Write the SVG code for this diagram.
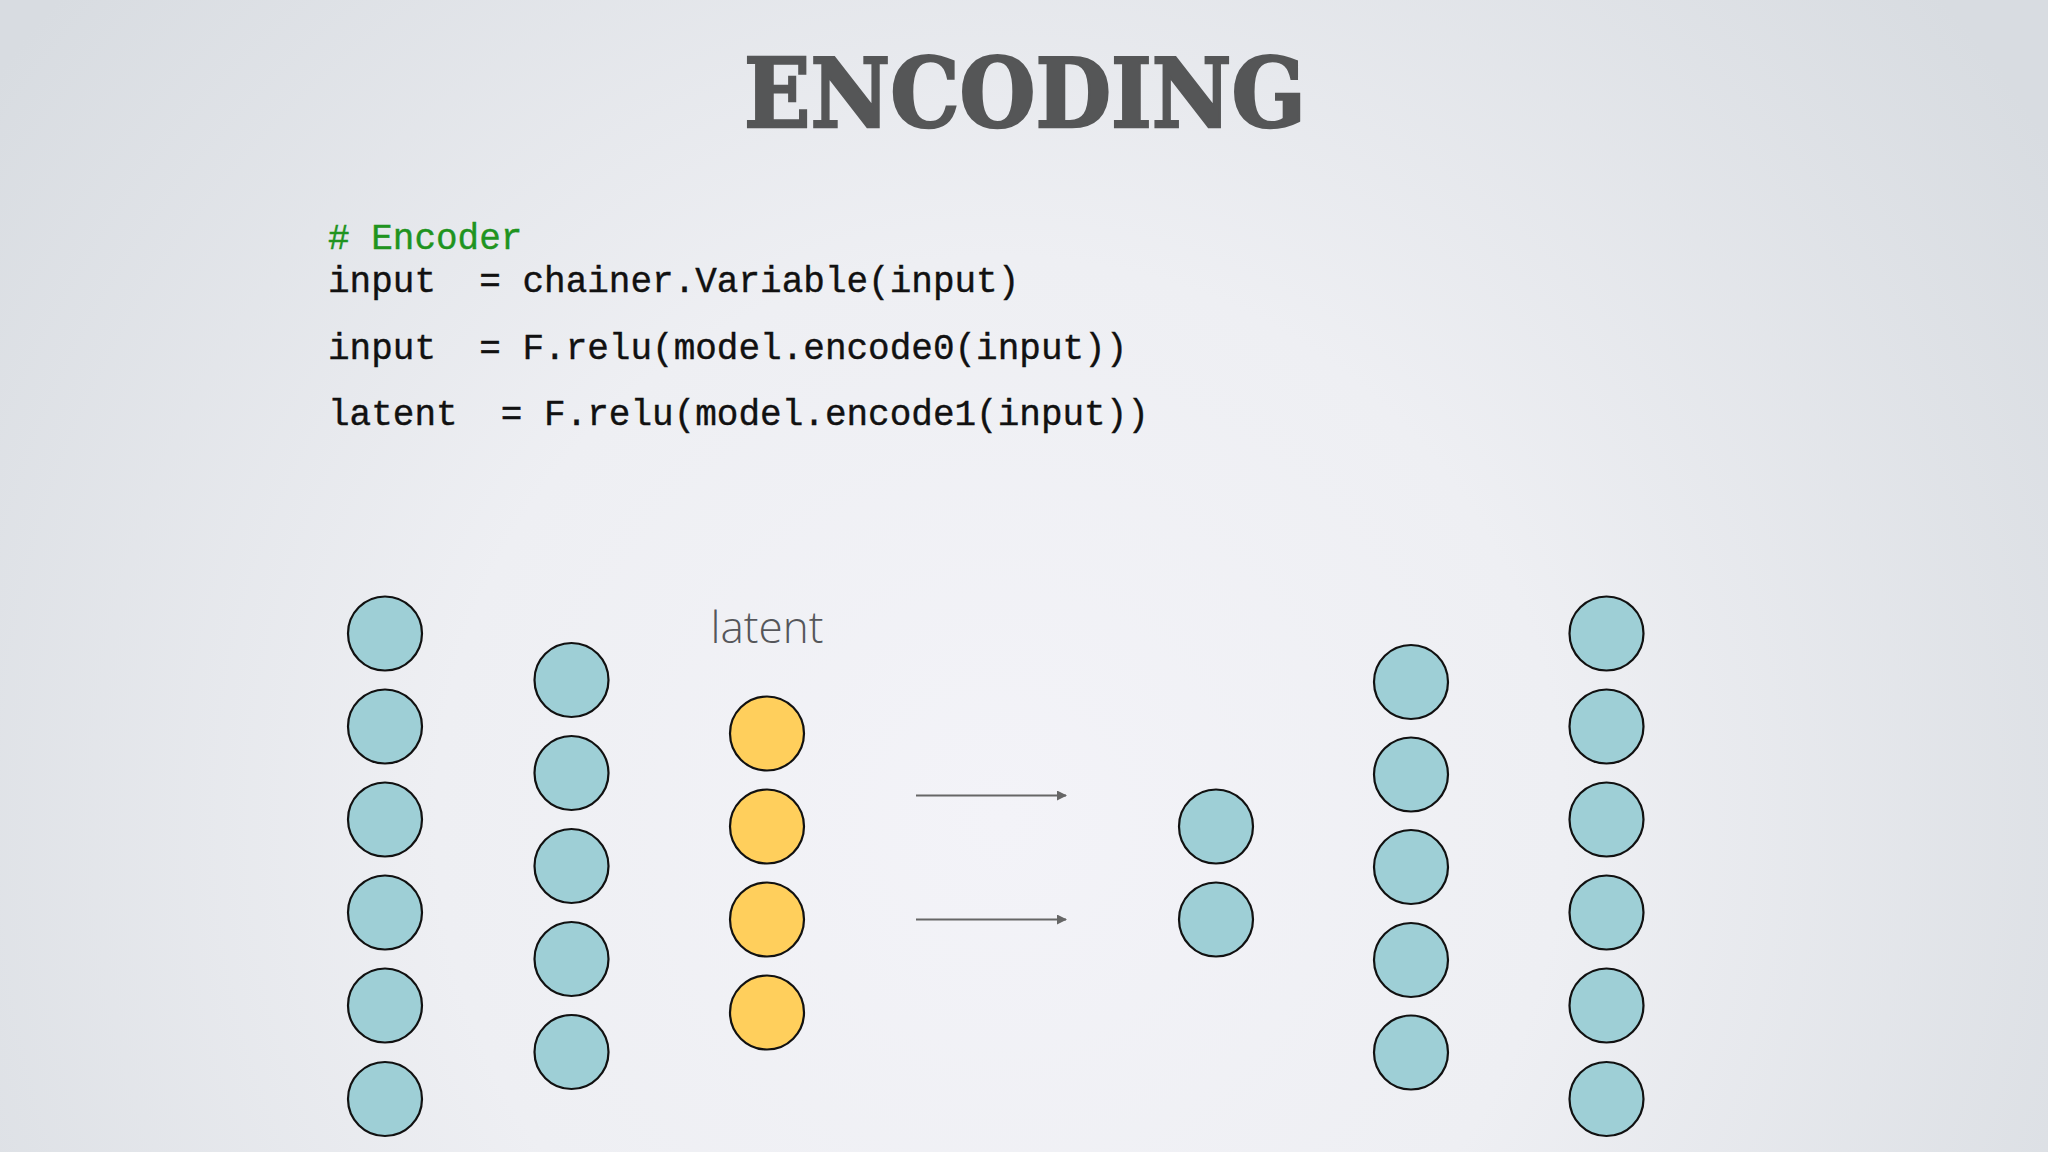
<svg xmlns="http://www.w3.org/2000/svg" width="2048" height="1152" viewBox="0 0 2048 1152">
  <defs>
    <radialGradient id="bg" cx="1000" cy="820" r="1250" gradientUnits="userSpaceOnUse">
      <stop offset="0" stop-color="#f3f3f8"/>
      <stop offset="0.45" stop-color="#eeeff3"/>
      <stop offset="1" stop-color="#d8dce1"/>
    </radialGradient>
    <marker id="arrow" viewBox="0 0 10 10" refX="9" refY="5" markerWidth="5" markerHeight="5" markerUnits="strokeWidth" orient="auto">
      <path d="M0,0 L10,5 L0,10 Z" fill="#666666"/>
    </marker>
  </defs>
  <style>
    .title { font-family: "DejaVu Serif", "Liberation Serif", serif; font-weight: bold; font-size: 96px; fill: #555657; stroke: #555657; stroke-width: 2.5; }
    .code { font-family: "Liberation Mono", "DejaVu Sans Mono", monospace; font-size: 36px; fill: #111111; stroke: #111111; stroke-width: 0.4; white-space: pre; }
    .comment { fill: #1f941f; stroke: #1f941f; }
    .label { font-family: "Open Sans", "Noto Sans", sans-serif; font-weight: 300; font-size: 44px; fill: #55565a; }
    .teal { fill: #9ecfd6; stroke: #111111; stroke-width: 2.2; }
    .yellow { fill: #ffcf5c; stroke: #111111; stroke-width: 2.2; }
    .conn { stroke: #666666; stroke-width: 2; fill: none; }
  </style>
  <rect x="0" y="0" width="2048" height="1152" fill="url(#bg)"/>

  <text id="title" class="title" x="1025" y="127" text-anchor="middle" textLength="562" lengthAdjust="spacingAndGlyphs">ENCODING</text>

  <g id="code">
    <text class="code comment" x="328" y="249" xml:space="preserve"># Encoder</text>
    <text class="code" x="328" y="292" xml:space="preserve">input  = chainer.Variable(input)</text>
    <text class="code" x="328" y="359" xml:space="preserve">input  = F.relu(model.encode0(input))</text>
    <text class="code" x="328" y="425" xml:space="preserve">latent  = F.relu(model.encode1(input))</text>
  </g>

  <text id="latent-label" class="label" x="767" y="643" text-anchor="middle">latent</text>

  <g id="layer-input">
    <circle id="in0" class="teal" cx="385" cy="633.5" r="37"/>
    <circle id="in1" class="teal" cx="385" cy="726.5" r="37"/>
    <circle id="in2" class="teal" cx="385" cy="819.5" r="37"/>
    <circle id="in3" class="teal" cx="385" cy="912.5" r="37"/>
    <circle id="in4" class="teal" cx="385" cy="1005.5" r="37"/>
    <circle id="in5" class="teal" cx="385" cy="1099" r="37"/>
  </g>
  <g id="layer-hidden1">
    <circle id="h0" class="teal" cx="571.5" cy="680" r="37"/>
    <circle id="h1" class="teal" cx="571.5" cy="773" r="37"/>
    <circle id="h2" class="teal" cx="571.5" cy="866" r="37"/>
    <circle id="h3" class="teal" cx="571.5" cy="959" r="37"/>
    <circle id="h4" class="teal" cx="571.5" cy="1052" r="37"/>
  </g>
  <g id="layer-latent">
    <circle id="l0" class="yellow" cx="767" cy="733.5" r="37"/>
    <circle id="l1" class="yellow" cx="767" cy="826.5" r="37"/>
    <circle id="l2" class="yellow" cx="767" cy="919.5" r="37"/>
    <circle id="l3" class="yellow" cx="767" cy="1012.5" r="37"/>
  </g>
  <g id="layer-decode0">
    <circle id="d0" class="teal" cx="1216" cy="826.5" r="37"/>
    <circle id="d1" class="teal" cx="1216" cy="919.5" r="37"/>
  </g>
  <g id="layer-decode1">
    <circle id="e0" class="teal" cx="1411" cy="682" r="37"/>
    <circle id="e1" class="teal" cx="1411" cy="774.5" r="37"/>
    <circle id="e2" class="teal" cx="1411" cy="867" r="37"/>
    <circle id="e3" class="teal" cx="1411" cy="960" r="37"/>
    <circle id="e4" class="teal" cx="1411" cy="1052.5" r="37"/>
  </g>
  <g id="layer-output">
    <circle id="o0" class="teal" cx="1606.5" cy="633.5" r="37"/>
    <circle id="o1" class="teal" cx="1606.5" cy="726.5" r="37"/>
    <circle id="o2" class="teal" cx="1606.5" cy="819.5" r="37"/>
    <circle id="o3" class="teal" cx="1606.5" cy="912.5" r="37"/>
    <circle id="o4" class="teal" cx="1606.5" cy="1005.5" r="37"/>
    <circle id="o5" class="teal" cx="1606.5" cy="1099" r="37"/>
  </g>

  <g id="connectors">
    <line class="conn" x1="916" y1="795.5" x2="1066" y2="795.5" marker-end="url(#arrow)"/>
    <line class="conn" x1="916" y1="919.5" x2="1066" y2="919.5" marker-end="url(#arrow)"/>
  </g>
</svg>
